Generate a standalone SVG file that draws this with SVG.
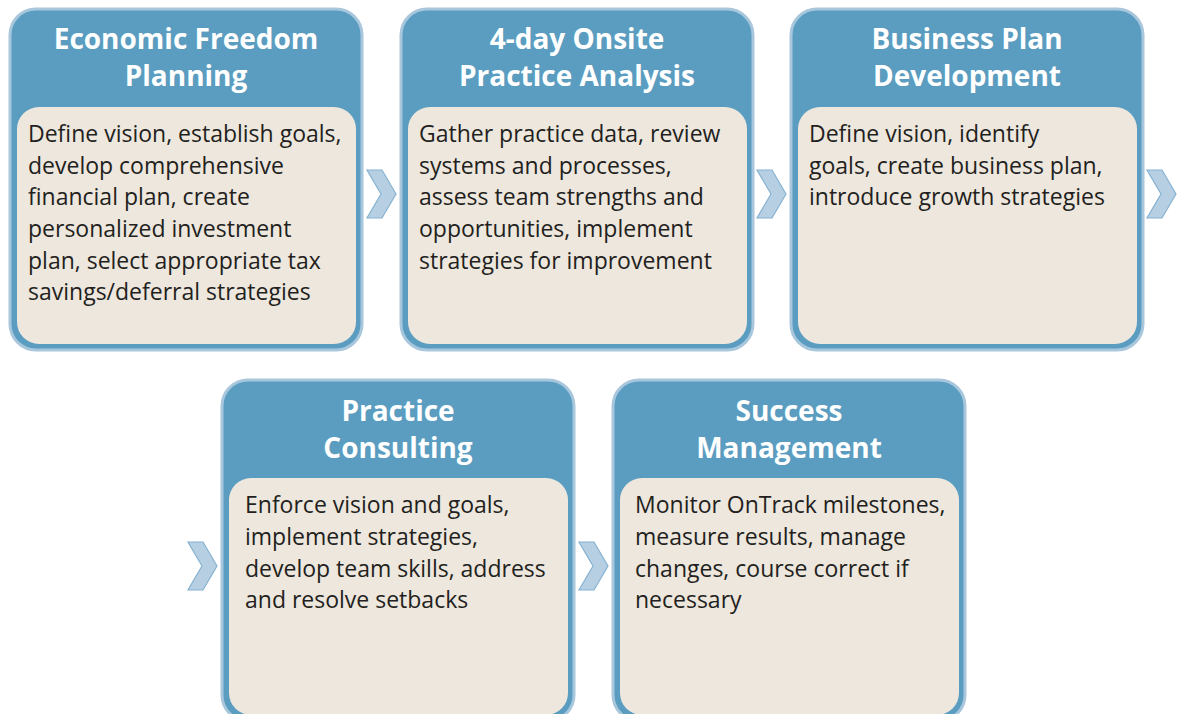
<svg xmlns="http://www.w3.org/2000/svg" width="1179" height="714" viewBox="0 0 1179 714">
<style>
.outer{fill:#5a9dc0;stroke:#a8c6dc;stroke-width:3}
.inner{fill:#ede7de}
.title{font-family:"Open Sans","Liberation Sans",sans-serif;font-weight:700;font-size:28px;fill:#ffffff;text-anchor:middle}
.body{font-family:"Open Sans","Liberation Sans",sans-serif;font-size:23px;fill:#231f20}
.chev{fill:#b7cfe2;stroke:#86b2d2;stroke-width:1.2}
</style>
<rect width="1179" height="714" fill="#ffffff"/>
<g id="n1">
<rect class="outer" x="10" y="9" width="352" height="341" rx="26"/>
<rect class="inner" x="17" y="107" width="339" height="237" rx="22"/>
<text class="title" x="186" y="49">Economic Freedom</text>
<text class="title" x="186" y="86">Planning</text>
<text class="body" x="28"><tspan x="28" y="142">Define vision, establish goals,</tspan><tspan x="28" y="174">develop comprehensive</tspan><tspan x="28" y="205">financial plan, create</tspan><tspan x="28" y="237">personalized investment</tspan><tspan x="28" y="269">plan, select appropriate tax</tspan><tspan x="28" y="300">savings/deferral strategies</tspan></text>
</g>
<g id="n2">
<rect class="outer" x="401" y="9" width="352" height="341" rx="26"/>
<rect class="inner" x="408" y="107" width="339" height="237" rx="22"/>
<text class="title" x="577" y="49">4-day Onsite</text>
<text class="title" x="577" y="86">Practice Analysis</text>
<text class="body"><tspan x="419" y="142">Gather practice data, review</tspan><tspan x="419" y="174">systems and processes,</tspan><tspan x="419" y="205">assess team strengths and</tspan><tspan x="419" y="237">opportunities, implement</tspan><tspan x="419" y="269">strategies for improvement</tspan></text>
</g>
<g id="n3">
<rect class="outer" x="791" y="9" width="352" height="341" rx="26"/>
<rect class="inner" x="798" y="107" width="339" height="237" rx="22"/>
<text class="title" x="967" y="49">Business Plan</text>
<text class="title" x="967" y="86">Development</text>
<text class="body"><tspan x="809" y="142">Define vision, identify</tspan><tspan x="809" y="174">goals, create business plan,</tspan><tspan x="809" y="205">introduce growth strategies</tspan></text>
</g>
<g id="n4">
<rect class="outer" x="222" y="380" width="352" height="341" rx="26"/>
<rect class="inner" x="229" y="478" width="339" height="237" rx="22"/>
<text class="title" x="398" y="421">Practice</text>
<text class="title" x="398" y="458">Consulting</text>
<text class="body"><tspan x="245" y="513">Enforce vision and goals,</tspan><tspan x="245" y="545">implement strategies,</tspan><tspan x="245" y="577">develop team skills, address</tspan><tspan x="245" y="608">and resolve setbacks</tspan></text>
</g>
<g id="n5">
<rect class="outer" x="613" y="380" width="352" height="341" rx="26"/>
<rect class="inner" x="620" y="478" width="339" height="237" rx="22"/>
<text class="title" x="789" y="421">Success</text>
<text class="title" x="789" y="458">Management</text>
<text class="body"><tspan x="635" y="513">Monitor OnTrack milestones,</tspan><tspan x="635" y="545">measure results, manage</tspan><tspan x="635" y="577">changes, course correct if</tspan><tspan x="635" y="608">necessary</tspan></text>
</g>
<g id="connectors">
<polygon class="chev" points="367,170 382,170 396,194 382,218 367,218 381,194"/>
<polygon class="chev" points="757,170 772,170 786,194 772,218 757,218 771,194"/>
<polygon class="chev" points="1147,170 1162,170 1176,194 1162,218 1147,218 1161,194"/>
<polygon class="chev" points="188,542 203,542 217,566 203,590 188,590 202,566"/>
<polygon class="chev" points="579,542 594,542 608,566 594,590 579,590 593,566"/>
</g>
</svg>
